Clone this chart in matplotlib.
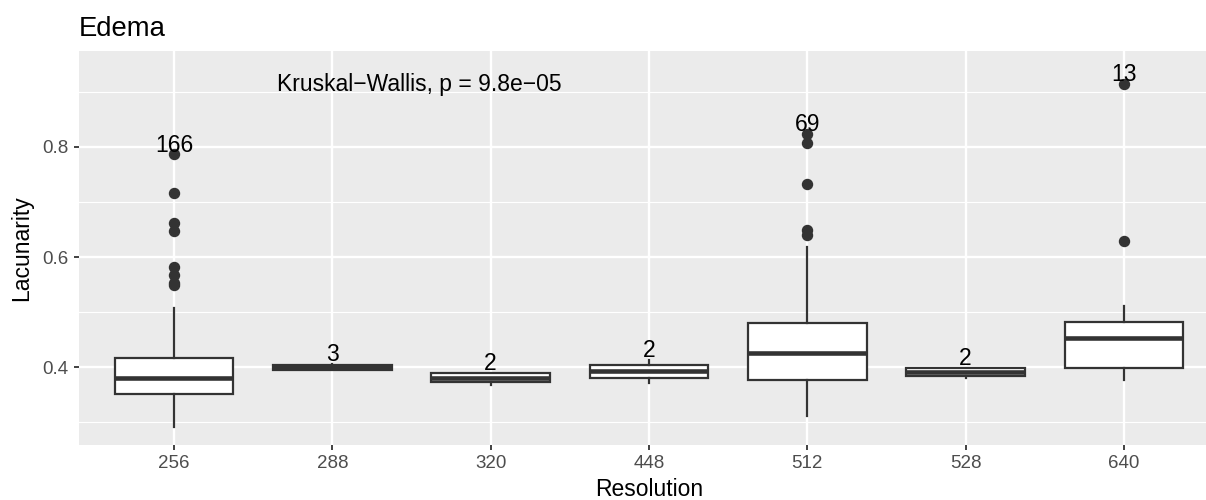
import matplotlib
matplotlib.use("Agg")
import matplotlib.pyplot as plt
from matplotlib.ticker import FixedLocator

plt.rcParams['font.family'] = ['Liberation Sans', 'DejaVu Sans']

# Lacunarity summary per resolution group (Edema)
resolutions = ['256', '288', '320', '448', '512', '528', '640']
counts = [166, 3, 2, 2, 69, 2, 13]
q1 = [0.352, 0.396, 0.3725, 0.381, 0.377, 0.385, 0.399]
medians = [0.381, 0.400, 0.381, 0.394, 0.426, 0.3915, 0.453]
q3 = [0.416, 0.405, 0.389, 0.404, 0.480, 0.398, 0.482]
whislo = [0.292, 0.396, 0.368, 0.371, 0.312, 0.380, 0.377]
whishi = [0.508, 0.406, 0.390, 0.413, 0.618, 0.399, 0.512]
outliers = [
    [0.786, 0.716, 0.661, 0.647, 0.581, 0.568, 0.552, 0.549],
    [],
    [],
    [],
    [0.823, 0.806, 0.733, 0.649, 0.640],
    [],
    [0.914, 0.629],
]
test_label = "Kruskal\u2212Wallis, p = 9.8e\u221205"

dark = '#333333'
fig = plt.figure(figsize=(12.06, 5.0), dpi=100)
ax = fig.add_axes([79 / 1206, 55 / 500, 1140 / 1206, 394.3 / 500])
ax.set_facecolor('#EBEBEB')
for s in ax.spines.values():
    s.set_visible(False)

positions = list(range(1, len(resolutions) + 1))
stats = []
for i in range(len(resolutions)):
    stats.append(dict(q1=q1[i], med=medians[i], q3=q3[i],
                      whislo=whislo[i], whishi=whishi[i], fliers=outliers[i]))

ax.bxp(stats, positions=positions, widths=0.75, patch_artist=True,
       showcaps=False,
       boxprops=dict(facecolor='white', edgecolor=dark, linewidth=1.6),
       medianprops=dict(color=dark, linewidth=3.3, solid_capstyle='butt'),
       whiskerprops=dict(color=dark, linewidth=1.6),
       flierprops=dict(marker='o', markerfacecolor=dark, markeredgecolor=dark,
                       markersize=7.2, linestyle='none'),
       zorder=3)

# group sizes above the highest point of each group
for i, n in enumerate(counts):
    top = max([whishi[i]] + outliers[i])
    ax.text(positions[i], top + 0.005, str(n), ha='center', va='baseline',
            fontsize=16.5, color='black', zorder=4)

ax.text(2.55, 0.9005, test_label, ha='center', va='baseline',
        fontsize=16.5, color='black', zorder=4)

ax.set_xlim(0.4, 7.6)
ax.set_ylim(0.2591, 0.9741)
ax.set_xticks(positions)
ax.set_xticklabels(resolutions)
ax.set_yticks([0.4, 0.6, 0.8])
ax.set_yticklabels(['0.4', '0.6', '0.8'])
ax.yaxis.set_minor_locator(FixedLocator([0.3, 0.5, 0.7, 0.9]))

ax.grid(True, which='major', color='white', linewidth=1.7, zorder=0)
ax.grid(True, which='minor', axis='y', color='white', linewidth=0.85, zorder=0)
ax.set_axisbelow(True)

ax.tick_params(axis='both', which='major', length=3.8, width=1.3, color=dark,
               labelsize=13.5, labelcolor='#4D4D4D', pad=3.5)
ax.tick_params(axis='y', which='minor', length=0)

ax.set_xlabel('Resolution', fontsize=16.5, labelpad=4)
ax.set_ylabel('Lacunarity', fontsize=16.5, labelpad=7)
ax.set_title('Edema', loc='left', fontsize=19.8, pad=10.5)

fig.savefig('out.png', dpi=100)
